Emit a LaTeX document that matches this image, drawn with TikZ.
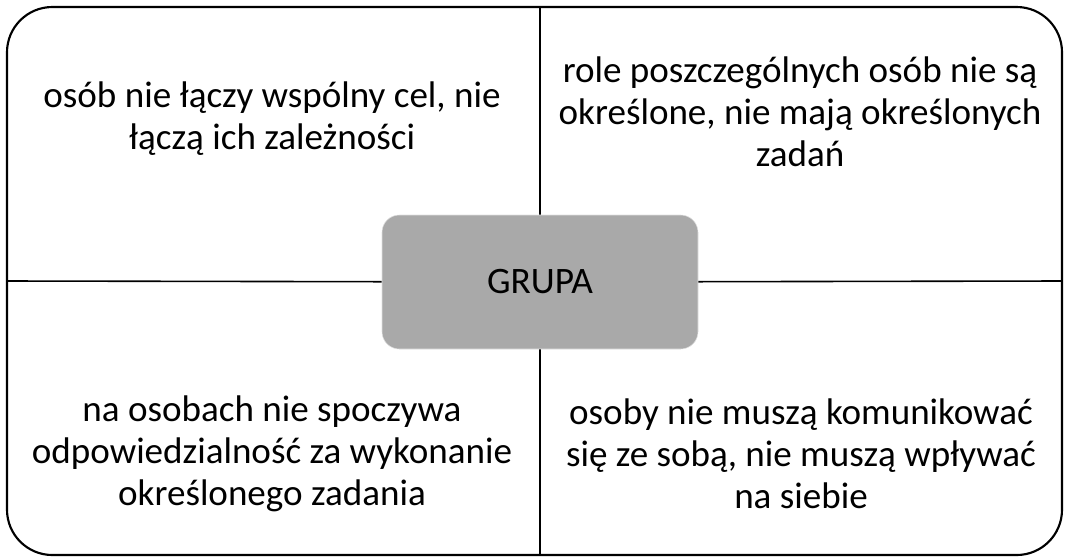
\documentclass[tikz,border=0pt]{standalone}
\usepackage{fontspec}
\setmainfont{Carlito}
\usetikzlibrary{positioning}
\definecolor{grupagray}{HTML}{A9A9A9}

\begin{document}
\begin{tikzpicture}[x=0.75pt,y=-0.75pt,
	txt/.style={align=center,font=\fontsize{27.8}{31.5}\selectfont,inner sep=0pt}]

\useasboundingbox (0,0) rectangle (1069,558);

\draw[line width=1.6pt,rounded corners=34pt] (7,7) rectangle (1062,555);

\coordinate (n) at (540,7);
\coordinate (s) at (540,555);
\coordinate (w) at (7,281);
\coordinate (e) at (1062,281);

 \node[draw=black!12,fill=grupagray,rounded corners=13pt,minimum width=237pt,minimum height=100.5pt,
	font=\fontsize{28}{32}\selectfont] (g) at (540,282) {GRUPA};

	\draw[line width=1.2pt] (n) -- (g)  (g) -- (s)
						(w) -- (g)  (g) -- (e);

\node[txt] (k1) at (272,119) {osób nie łączy wspólny cel, nie\\łączą ich zależności};
 \node[txt] (k2) at (800,112) {role poszczególnych osób nie są\\określone, nie mają określonych\\zadań};
 \node[txt] (k3) at (272,454) {na osobach nie spoczywa\\odpowiedzialność za wykonanie\\określonego zadania};
 \node[txt] (k4) at (801,454) {osoby nie muszą komunikować\\się ze sobą, nie muszą wpływać\\na siebie};
\end{tikzpicture}
\end{document}
